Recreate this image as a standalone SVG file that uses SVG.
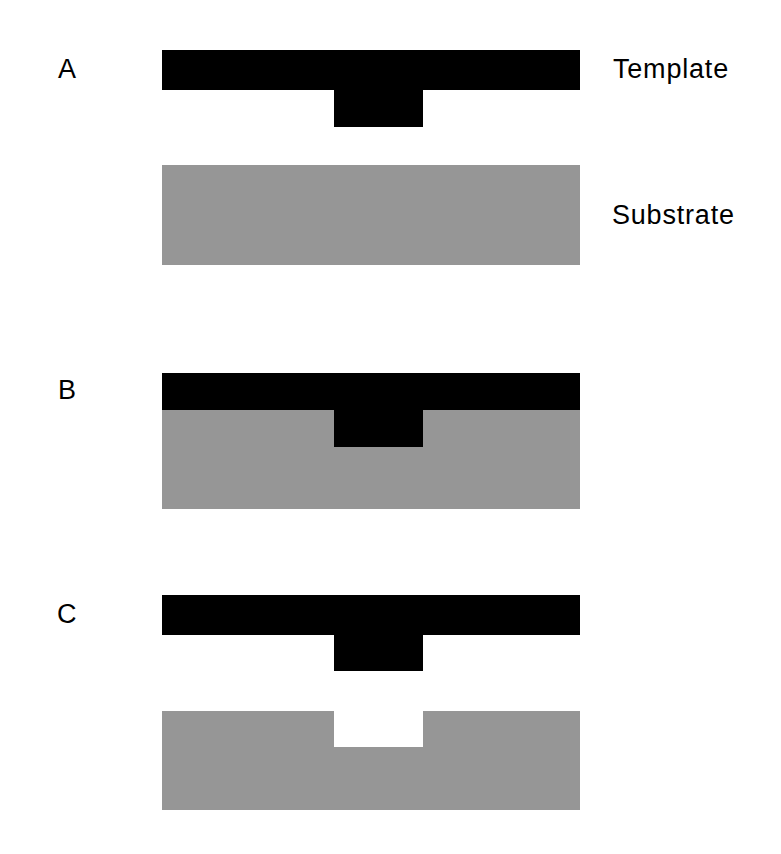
<svg xmlns="http://www.w3.org/2000/svg" width="781" height="854" viewBox="0 0 781 854">
  <style>
    .tpl { fill: #000000; }
    .sub { fill: #969696; }
    .lbl { font-family: "Liberation Sans", Arial, sans-serif; font-size: 27px; fill: #000000; }
    .side { letter-spacing: 0.8px; }
  </style>
  <rect width="781" height="854" fill="#ffffff"/>

  <!-- Stage A: template above substrate -->
  <g id="stage-a">
    <text class="lbl" x="58" y="78">A</text>
    <g id="template-a">
      <rect class="tpl" x="162" y="50" width="418" height="40"/>
      <rect class="tpl" x="334" y="89" width="89" height="38"/>
    </g>
    <g id="substrate-a">
      <rect class="sub" x="162" y="165" width="418" height="100"/>
    </g>
    <text class="lbl side" x="613" y="78">Template</text>
    <text class="lbl side" x="612" y="224">Substrate</text>
  </g>

  <!-- Stage B: template pressed into substrate -->
  <g id="stage-b">
    <text class="lbl" x="58" y="399">B</text>
    <g id="substrate-b">
      <rect class="sub" x="162" y="409" width="418" height="100"/>
    </g>
    <g id="template-b">
      <rect class="tpl" x="162" y="373" width="418" height="37"/>
      <rect class="tpl" x="334" y="409" width="89" height="38"/>
    </g>
  </g>

  <!-- Stage C: template released, imprint left in substrate -->
  <g id="stage-c">
    <text class="lbl" x="57" y="623">C</text>
    <g id="template-c">
      <rect class="tpl" x="162" y="595" width="418" height="40"/>
      <rect class="tpl" x="334" y="634" width="89" height="37"/>
    </g>
    <g id="substrate-c">
      <path class="sub" d="M162 711 H334 V747 H423 V711 H580 V810 H162 Z"/>
    </g>
  </g>
</svg>
